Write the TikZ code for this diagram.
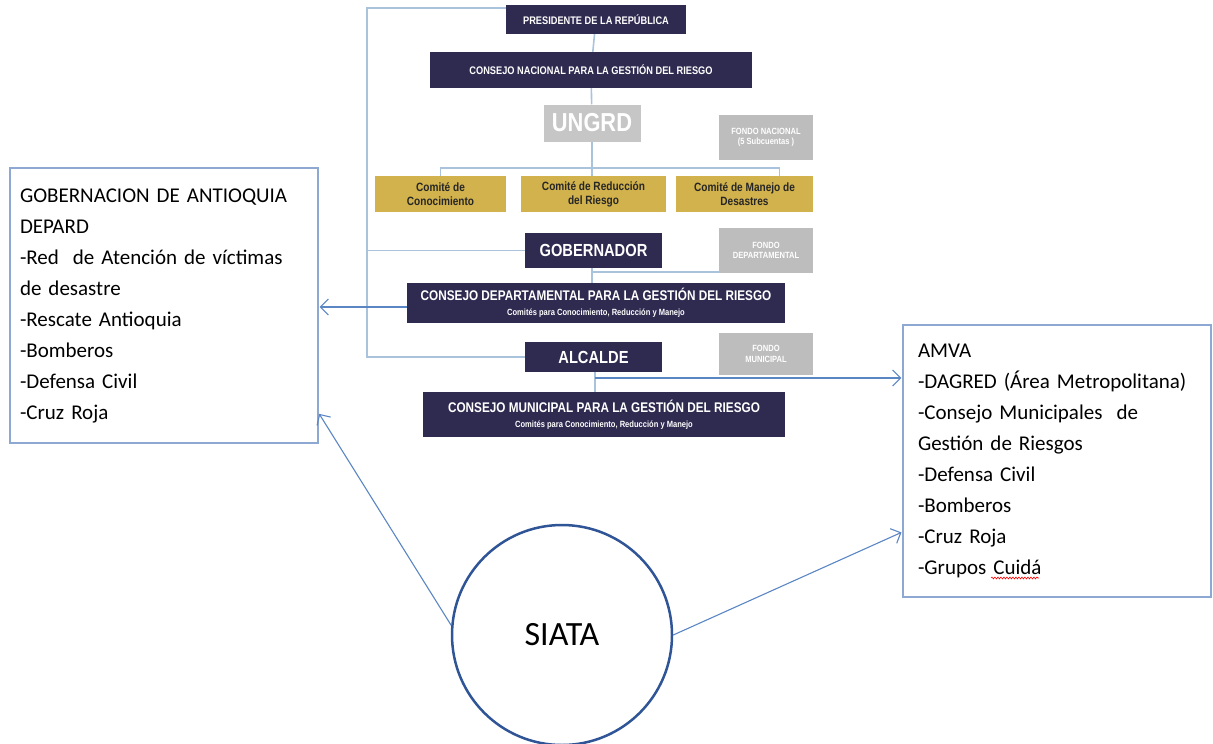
\documentclass[tikz,border=0pt]{standalone}
\usepackage{fontspec}
\setmainfont{Carlito}
\newfontfamily\boxfont[FakeStretch=0.84]{Liberation Sans}
\usetikzlibrary{arrows.meta}
\usetikzlibrary{positioning}
\usetikzlibrary{decorations.pathmorphing}
\definecolor{navy}{HTML}{2E2A50}
\definecolor{grayfill}{HTML}{C6C6C6}
\definecolor{fondofill}{HTML}{BDBDBD}
\definecolor{gold}{HTML}{D2B24C}
\definecolor{linkblue}{HTML}{A9C3DC}
\definecolor{arrowblue}{HTML}{5A86C4}
\definecolor{boxblue}{HTML}{8EA8D4}
\definecolor{circblue}{HTML}{2F5597}

\begin{document}
\begin{tikzpicture}[x=1pt,y=-1pt,
        navy box/.style={fill=navy,text=white,inner sep=0pt,align=center},
        gray box/.style={fill=grayfill,text=white,inner sep=0pt,align=center},
        fondo/.style={fill=fondofill,text=white,inner sep=0pt,align=center,
            minimum width=94,font={\boxfont\bfseries\fontsize{9}{10.5}\selectfont}},
        comite/.style={fill=gold,text=black!85,inner sep=0pt,align=center,
            minimum height=36,font={\boxfont\bfseries\fontsize{12}{14}\selectfont}},
        link/.style={draw=linkblue,line width=1.6pt},
        arrow/.style={draw=arrowblue,line width=1.1pt,
            -{Straight Barb[length=8pt,width=16pt]},shorten >=1pt},
        list/.style={draw=boxblue,line width=1.3pt,align=left,text width=288,
            minimum width=308,inner xsep=10pt,
            font={\fontsize{21}{31}\selectfont\hyphenpenalty=10000}},
        squiggle/.style={draw=red,line width=0.6pt,decorate,
            decoration={snake,amplitude=0.9pt,segment length=3pt}},
    ]
        \useasboundingbox (0,0) rectangle (1213,744);

        % national
        \node (pres) at (596,19.5) [navy box,minimum width=180,minimum height=29,
            font={\boxfont\bfseries\fontsize{11}{13}\selectfont}]
            {PRESIDENTE DE LA REPÚBLICA};
        \node (cnac) at (591,70) [navy box,minimum width=322,minimum height=36,
            font={\boxfont\bfseries\fontsize{11}{13}\selectfont}]
            {CONSEJO NACIONAL PARA LA GESTIÓN DEL RIESGO};
        \node (ungrd) at (592,123) [gray box,minimum width=97,minimum height=37,
            font={\boxfont\bfseries\fontsize{26}{28}\selectfont}] {UNGRD};
        \node (fnac) at (766,137.5) [fondo,minimum height=45]
            {FONDO NACIONAL\\(5 Subcuentas )};

        \node (com1) at (440.5,194) [comite,minimum width=131]
            {Comité de\\Conocimiento};
        \node (com2) at (593.5,194) [comite,minimum width=145]
            {Comité de Reducción\\del Riesgo};
        \node (com3) at (744.5,194) [comite,minimum width=137]
            {Comité de Manejo de\\Desastres};

        \draw[link] (pres) -- (cnac);
        \draw[link] (cnac) -- (ungrd);
        \draw[link] (ungrd.south) -- (ungrd.south |- com2.north);
        \coordinate (branch) at (592,168);
        \draw[link] (com1.north) |- (branch) -| ([xshift=35]com3.north);

        % departamental
        \node (gob) at (593.5,250.5) [navy box,minimum width=137,minimum height=35,
            font={\boxfont\bfseries\fontsize{17.5}{20}\selectfont}] {GOBERNADOR};
        \node (fdep) at (766,250.5) [fondo,minimum height=45]
            {FONDO\\DEPARTAMENTAL};
        \node (cdep) at (596,303) [navy box,minimum width=378,minimum height=40,
            font={\boxfont\bfseries\fontsize{14}{15}\selectfont}]
            {CONSEJO DEPARTAMENTAL PARA LA GESTIÓN DEL RIESGO\\
             {\fontsize{9}{11}\selectfont Comités para Conocimiento, Reducción y Manejo}};

        \coordinate (gobjoint) at (592,272);
        \draw[link] (gob.south -| gobjoint) -- (gobjoint |- cdep.north);
        \draw[link] (gobjoint) -- (gobjoint -| fdep.west);

        % municipal
        \node (alc) at (593.5,357) [navy box,minimum width=137,minimum height=30,
            font={\boxfont\bfseries\fontsize{17.5}{20}\selectfont}] {ALCALDE};
        \node (fmun) at (766,354) [fondo,minimum height=42]
            {FONDO\\MUNICIPAL};
        \node (cmun) at (604,414.5) [navy box,minimum width=362,minimum height=45,
            font={\boxfont\bfseries\fontsize{14}{15}\selectfont}]
            {CONSEJO MUNICIPAL PARA LA GESTIÓN DEL RIESGO\\
             {\fontsize{9}{11}\selectfont Comités para Conocimiento, Reducción y Manejo}};

        \coordinate (alcjoint) at (595,378);
        \draw[link] (alc.south -| alcjoint) -- (alcjoint |- cmun.north);

        % bracket on the left
        \coordinate (brk) at (367,8);
        \draw[link] (pres.west |- brk) -- (brk) -- (brk |- alc) -- (alc.west);
        \draw[link] (brk |- gob) -- (gob.west);

        % side boxes
        \node (gobant) at (164,305.5) [list,minimum height=275]
            {GOBERNACION DE ANTIOQUIA\\
             DEPARD\\
             -Red~~de Atención de víctimas\\
             de desastre\\
             -Rescate Antioquia\\
             -Bomberos\\
             -Defensa Civil\\
             -Cruz Roja};
        \node (amva) at (1057,461) [list,minimum height=272,inner xsep=15pt,text width=278]
            {AMVA\\
             -DAGRED (Área Metropolitana)\\
             -Consejo Municipales~~de\\
             Gestión de Riesgos\\
             -Defensa Civil\\
             -Bomberos\\
             -Cruz Roja\\
             -Grupos Cuidá};
        \draw[squiggle] (991,578) -- (1039,578);

        % siata
        \node (siata) at (562,635) [circle,draw=circblue,line width=2.5pt,
            minimum size=220,font={\fontsize{34}{40}\selectfont}] {SIATA};

        \draw[arrow] (cdep.west |- 0,307) -- (gobant.east |- 0,307);
        \draw[arrow] (alcjoint) -- (amva.west |- alcjoint);
        \draw[arrow] (siata.175) -- (gobant.east |- 0,413);
        \draw[arrow] (siata.east) -- (amva.west |- 0,532);
    \end{tikzpicture}
\end{document}
